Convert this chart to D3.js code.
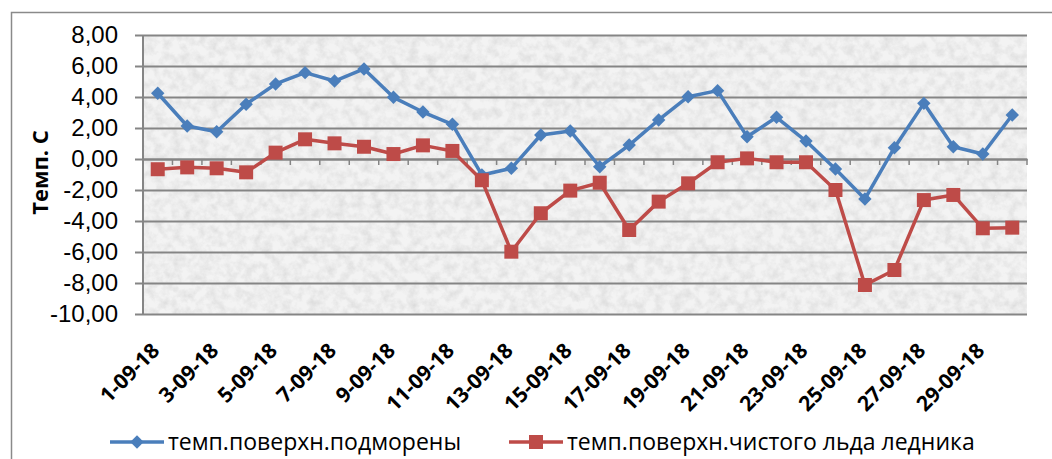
<!DOCTYPE html>
<html>
<head>
<meta charset="utf-8">
<script src="https://cdn.jsdelivr.net/npm/d3@7"></script>
<style>
    body { margin: 0; background: #fff; }
    svg { display: block; font-family: "Open Sans", sans-serif; }
</style>
</head>
<body>
<div id="chart-area"></div>
<script>
const dates = ["1-09-18", "2-09-18", "3-09-18", "4-09-18", "5-09-18", "6-09-18", "7-09-18", "8-09-18",
    "9-09-18", "10-09-18", "11-09-18", "12-09-18", "13-09-18", "14-09-18", "15-09-18", "16-09-18",
    "17-09-18", "18-09-18", "19-09-18", "20-09-18", "21-09-18", "22-09-18", "23-09-18", "24-09-18",
    "25-09-18", "26-09-18", "27-09-18", "28-09-18", "29-09-18", "30-09-18"];

const moraine = [4.24, 2.13, 1.76, 3.53, 4.84, 5.57, 5.03, 5.81, 3.98, 3.03, 2.24, -1.03, -0.6, 1.55, 1.81,
    -0.5, 0.9, 2.52, 4.02, 4.41, 1.44, 2.69, 1.16, -0.65, -2.58, 0.73, 3.59, 0.79, 0.32, 2.84];

const cleanIce = [-0.66, -0.54, -0.6, -0.86, 0.41, 1.27, 1.01, 0.79, 0.32, 0.88, 0.52, -1.37, -5.98, -3.5, -2.04,
    -1.53, -4.58, -2.75, -1.57, -0.21, 0.04, -0.21, -0.21, -2.0, -8.13, -7.16, -2.65, -2.32, -4.47, -4.43];

const yTicks = [8, 6, 4, 2, 0, -2, -4, -6, -8, -10];

const seriesNames = ["темп.поверхн.подморены", "темп.поверхн.чистого льда ледника"];
const yTitle = "Темп. С";

const chartSize = {width: 1052, height: 459};
const plot = {left: 143, right: 1027, top: 35, bottom: 314};

const blue = "#4a7ebb";
const red = "#be4b48";
const gridColor = "#858585";

const fmt = d => d.toFixed(2).replace(".", ",");

const drawChart = () => {
    const svg = d3.select("#chart-area")
        .append("svg")
        .attr("width", chartSize.width)
        .attr("height", chartSize.height);

    // granite-ish texture of the plot area
    const defs = svg.append("defs");
    const filter = defs.append("filter")
        .attr("id", "granite")
        .attr("x", 0).attr("y", 0).attr("width", 1).attr("height", 1);
    filter.append("feTurbulence")
        .attr("type", "fractalNoise")
        .attr("baseFrequency", 0.11)
        .attr("numOctaves", 4)
        .attr("seed", 7)
        .attr("result", "noise");
    filter.append("feColorMatrix")
        .attr("in", "noise")
        .attr("type", "matrix")
        .attr("values", "0 0 0 0 0.7  0 0 0 0 0.7  0 0 0 0 0.7  1.6 0 0 0 -0.58");

    // chart frame
    svg.append("rect")
        .attr("x", 11.5).attr("y", 12.5)
        .attr("width", 1060).attr("height", 470)
        .attr("fill", "none")
        .attr("stroke", "#8a8a8a")
        .attr("stroke-width", 1.5);

    const x = d3.scaleBand()
        .domain(dates)
        .range([plot.left, plot.right])
        .padding(0);

    const y = d3.scaleLinear()
        .domain([-10, 8])
        .range([plot.bottom, plot.top]);

    const cx = d => x(d) + x.bandwidth() / 2;

    svg.append("rect")
        .attr("x", plot.left).attr("y", plot.top)
        .attr("width", plot.right - plot.left).attr("height", plot.bottom - plot.top)
        .attr("fill", "#f3f3f3");
    svg.append("rect")
        .attr("x", plot.left).attr("y", plot.top)
        .attr("width", plot.right - plot.left).attr("height", plot.bottom - plot.top)
        .attr("fill", "#fff")
        .attr("filter", "url(#granite)");

    // y axis with gridlines
    const yAxis = d3.axisLeft(y)
        .tickValues(yTicks)
        .tickFormat(fmt)
        .tickSize(0)
        .tickPadding(17);

    const yG = svg.append("g")
        .attr("class", "y-axis")
        .attr("transform", `translate(${plot.left - 8}, 0)`)
        .call(yAxis);
    yG.select(".domain").remove();
    yG.selectAll(".tick line")
        .attr("x1", 0)
        .attr("x2", plot.right - plot.left + 8)
        .attr("stroke", gridColor)
        .attr("stroke-width", 2);
    yG.selectAll(".tick text")
        .attr("x", -17)
        .attr("font-size", 24)
        .attr("fill", "#000");

    svg.append("line")
        .attr("x1", plot.left).attr("x2", plot.left)
        .attr("y1", plot.top).attr("y2", plot.bottom)
        .attr("stroke", gridColor)
        .attr("stroke-width", 2);

    // x axis sits on zero, labels go below the plot
    const xAxis = d3.axisBottom(x)
        .tickSize(0)
        .tickFormat("");
    svg.append("g")
        .attr("class", "x-axis")
        .attr("transform", `translate(0, ${y(0)})`)
        .call(xAxis)
        .select(".domain")
        .attr("stroke", gridColor)
        .attr("stroke-width", 2);

    svg.append("g")
        .selectAll("line")
        .data(dates)
        .join("line")
        .attr("x1", d => x(d) + x.bandwidth())
        .attr("x2", d => x(d) + x.bandwidth())
        .attr("y1", y(0))
        .attr("y2", y(0) + 6)
        .attr("stroke", gridColor)
        .attr("stroke-width", 1.5);

    svg.append("g")
        .selectAll("text")
        .data(dates.filter((d, i) => i % 2 === 0))
        .join("text")
        .attr("transform", d => `translate(${cx(d) + 3}, ${plot.bottom + 38}) rotate(-45)`)
        .attr("text-anchor", "end")
        .attr("font-size", 21)
        .attr("font-weight", "bold")
        .attr("fill", "#000")
        .text(d => d);

    svg.append("text")
        .attr("transform", `translate(48, ${(plot.top + plot.bottom) / 2 - 2}) rotate(-90)`)
        .attr("text-anchor", "middle")
        .attr("font-size", 22)
        .attr("font-weight", "bold")
        .text(yTitle);

    // series
    const line = d3.line()
        .x((v, i) => cx(dates[i]))
        .y(v => y(v));

    svg.append("path")
        .datum(moraine)
        .attr("fill", "none")
        .attr("stroke", blue)
        .attr("stroke-width", 3.5)
        .attr("stroke-linejoin", "round")
        .attr("d", line);

    svg.append("path")
        .datum(cleanIce)
        .attr("fill", "none")
        .attr("stroke", red)
        .attr("stroke-width", 3.5)
        .attr("stroke-linejoin", "round")
        .attr("d", line);

    const diamond = d3.symbol().type(d3.symbolSquare).size(90);
    const square = d3.symbol().type(d3.symbolSquare).size(196);

    svg.append("g")
        .selectAll("path")
        .data(moraine)
        .join("path")
        .attr("transform", (v, i) => `translate(${cx(dates[i])}, ${y(v)}) rotate(45)`)
        .attr("d", diamond)
        .attr("fill", blue);

    svg.append("g")
        .selectAll("path")
        .data(cleanIce)
        .join("path")
        .attr("transform", (v, i) => `translate(${cx(dates[i])}, ${y(v)})`)
        .attr("d", square)
        .attr("fill", red);

    // legend
    const legendY = 442;
    const legend = [
        {name: seriesNames[0], color: blue, x: 110, shape: "diamond"},
        {name: seriesNames[1], color: red, x: 509, shape: "square"}
    ];
    const lg = svg.append("g").selectAll("g").data(legend).join("g")
        .attr("transform", d => `translate(${d.x}, ${legendY})`);
    lg.append("line")
        .attr("x1", 0).attr("x2", 54)
        .attr("stroke", d => d.color)
        .attr("stroke-width", 3.5);
    lg.append("path")
        .attr("transform", d => d.shape === "diamond" ? "translate(27,0) rotate(45)" : "translate(27,0)")
        .attr("d", d => d.shape === "diamond" ? diamond() : square())
        .attr("fill", d => d.color);
    lg.append("text")
        .attr("x", 58)
        .attr("dy", "0.35em")
        .attr("font-size", 23)
        .attr("fill", "#000")
        .text(d => d.name);
};

window.onload = drawChart;
</script>
</body>
</html>
